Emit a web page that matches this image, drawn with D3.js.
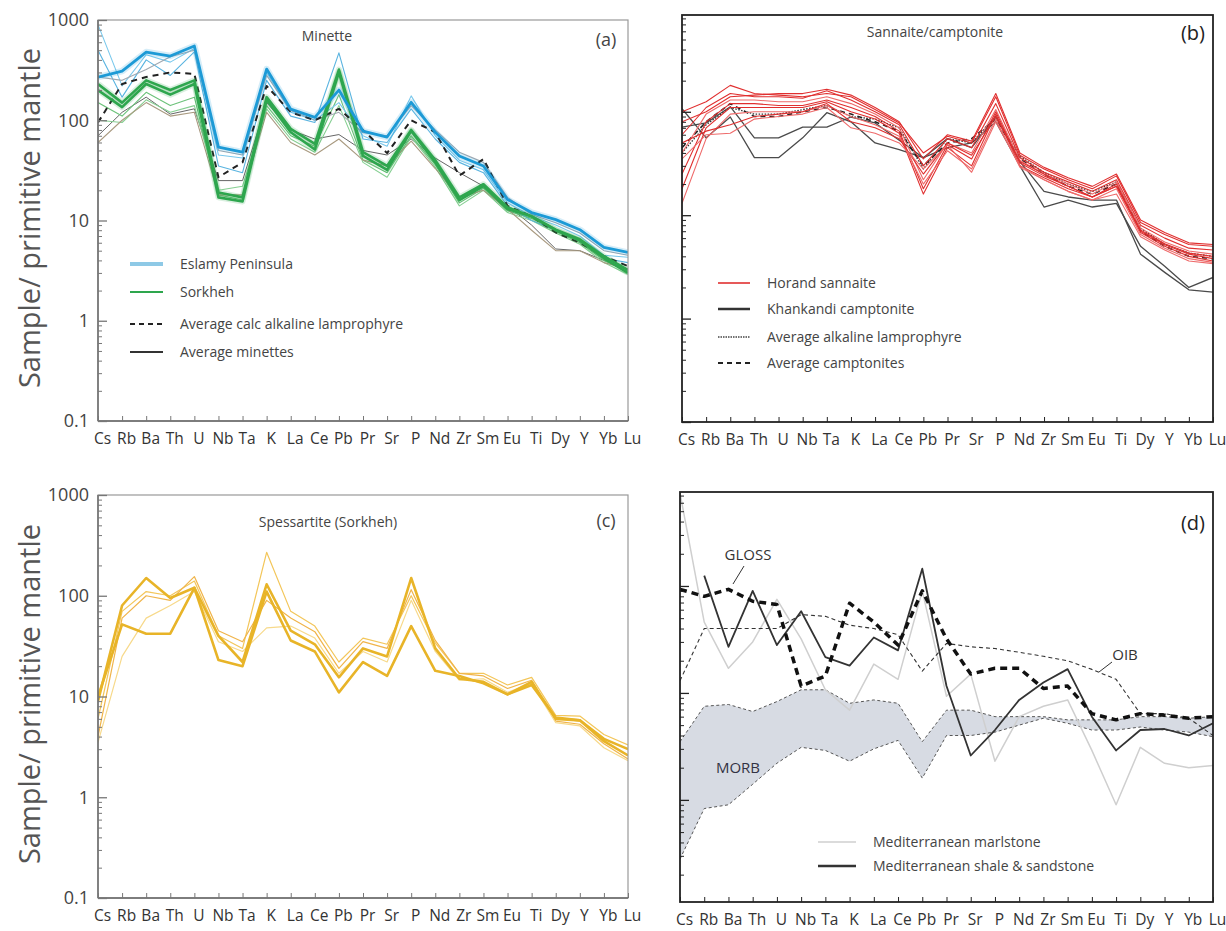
<!DOCTYPE html>
<html>
<head>
<meta charset="utf-8">
<script src="https://cdn.jsdelivr.net/npm/d3@7/dist/d3.min.js"></script>
<style>
  body { margin: 0; background: #fff; }
  text { font-family: "Open Sans", "Noto Sans", sans-serif; }
</style>
</head>
<body>
<script>
// Element order of the primitive-mantle normalised spider diagrams
const elements = ["Cs","Rb","Ba","Th","U","Nb","Ta","K","La","Ce","Pb","Pr","Sr","P","Nd","Zr","Sm","Eu","Ti","Dy","Y","Yb","Lu"];
const yTickValues = [0.1, 1, 10, 100, 1000];
const yTickLabels = ["0.1", "1", "10", "100", "1000"];

// (a) Minette — Eslamy Peninsula samples
const eslamyThick = [269, 309, 479, 437, 550, 54, 48, 324, 129, 107, 200, 78, 68, 151, 76, 44, 35, 16.2, 12, 10.2, 8.1, 5.4, 4.8];
const eslamyThin = [
  [900, 220, 450, 380, 520, 45, 42, 300, 120, 100, 150, 70, 55, 175, 70, 40, 32, 15, 11, 9, 7, 4.5, 4.3],
  [500, 170, 400, 280, 480, 35, 30, 250, 110, 95, 470, 65, 60, 130, 65, 38, 30, 14, 10, 8, 6.5, 4.2, 3.8],
  [270, 250, 320, 430, 500, 50, 45, 280, 125, 100, 120, 75, 70, 140, 80, 48, 38, 17, 11.5, 9.5, 7.5, 5, 4.5]
];
// (a) Minette — Sorkheh samples
const sorkhehThick = [
  [200, 135, 230, 180, 230, 17, 15.5, 160, 76, 51, 300, 44, 32, 78, 38, 16, 22, 13, 11, 8.1, 6.5, 4.4, 3.2],
  [230, 150, 250, 200, 250, 19, 17, 170, 82, 58, 320, 48, 35, 80, 40, 17, 23, 13.5, 11, 8, 6.3, 4.2, 3]
];
const sorkhehThin = [
  [150, 110, 190, 140, 170, 18, 16, 140, 70, 55, 180, 40, 30, 70, 36, 15, 21, 12.5, 10.5, 7.8, 6, 4, 3.1],
  [100, 95, 160, 120, 140, 20, 22, 130, 65, 48, 140, 38, 27, 68, 34, 14, 20, 12, 10, 7.5, 5.8, 3.8, 2.9],
  [60, 100, 150, 110, 120, 18, 18, 120, 60, 45, 65, 40, 35, 62, 33, 17, 20, 13, 8, 5, 5, 3.8, 3.3]
];
const avgCalcAlkaline = [95, 230, 270, 300, 290, 27, 38, 220, 120, 100, 130, 80, 47, 100, 76, 28, 41, 14, 11, 7.6, 6, 4.4, 3.5];
const avgMinettes = [70, 120, 170, 115, 130, 25, 25, 150, 80, 65, 72, 50, 45, 65, 42, 30, 22, 14, 9, 5.2, 5, 4, 3.2];

// (b) Sannaite/camptonite
const horandSannaite = [
  [100, 125, 180, 150, 145, 140, 150, 140, 105, 78, 40, 58, 50, 140, 38, 28, 22, 18, 24, 8.5, 6.5, 5.2, 5.0],
  [60, 110, 150, 140, 140, 135, 160, 130, 100, 75, 30, 55, 45, 120, 36, 26, 21, 17, 22, 8, 6, 4.8, 4.6],
  [40, 95, 130, 130, 125, 125, 140, 120, 95, 70, 22, 50, 40, 105, 34, 25, 20, 16, 21, 7.5, 5.5, 4.5, 4.2],
  [25, 80, 120, 120, 115, 115, 130, 110, 90, 65, 18, 48, 35, 100, 32, 24, 19, 15, 20, 7, 5.2, 4.2, 3.8],
  [18, 70, 110, 110, 110, 110, 125, 100, 85, 62, 16, 45, 30, 95, 30, 23, 18, 15, 19, 6.8, 5, 4, 3.6],
  [13, 55, 95, 100, 100, 100, 115, 90, 75, 58, 20, 42, 28, 85, 29, 22, 17, 14, 18, 6.5, 4.8, 3.8, 3.5],
  [80, 100, 140, 145, 150, 150, 165, 145, 110, 80, 35, 60, 52, 150, 40, 29, 23, 19, 25, 9, 6.8, 5.4, 5.2],
  [50, 65, 75, 90, 95, 100, 120, 80, 70, 55, 25, 50, 38, 90, 33, 25, 19, 15, 19, 7.2, 5.3, 4.3, 4.0],
  [35, 60, 62, 85, 90, 95, 110, 70, 62, 50, 28, 48, 26, 80, 30, 22, 17, 14, 16, 6.2, 4.6, 3.6, 3.4]
];
const khankandiCamptonite = [
  [107, 56, 89, 36, 36, 56, 98, 80, 50, 43, 36, 45, 50, 80, 30, 12, 14, 12, 13, 5, 3.2, 2.0, 2.5],
  [71, 78, 112, 56, 56, 71, 71, 89, 78, 53, 36, 55, 45, 90, 33, 17, 15, 14, 14, 4.2, 2.8, 1.9, 1.8]
];
const avgAlkalineLamprophyre = [40, 75, 110, 95, 95, 105, 115, 90, 85, 70, 28, 55, 50, 90, 37, 26, 20, 17, 21, 7.5, 5.2, 4.3, 4.0];
const avgCamptonites = [45, 80, 120, 90, 90, 100, 110, 95, 80, 65, 30, 50, 55, 85, 35, 25, 19, 16, 20, 7, 5, 4, 3.8];

// (c) Spessartite (Sorkheh)
const spessartiteThick = [
  [10, 52, 42, 42, 120, 23, 20, 110, 36, 28, 11, 22, 16, 50, 18, 16, 13.5, 10.5, 13, 6.2, 5.8, 3.8, 3.0],
  [9, 80, 150, 95, 120, 40, 22, 130, 45, 33, 15.5, 30, 25, 150, 30, 15, 14, 10.5, 14, 6, 5.8, 3.6, 2.6]
];
const spessartiteThin = [
  [6, 70, 110, 100, 140, 40, 30, 270, 70, 50, 22, 38, 33, 100, 34, 17, 17, 13, 15.5, 6.5, 6.4, 4.2, 3.3],
  [4, 60, 100, 90, 155, 45, 35, 90, 60, 44, 19, 35, 30, 115, 36, 17, 16, 12, 14.5, 5.7, 5.3, 3.4, 2.4],
  [3.5, 25, 60, 80, 110, 35, 28, 48, 50, 38, 17, 28, 22, 90, 28, 14.5, 15, 11, 13.5, 5.5, 5.1, 3.1, 2.3]
];

// (d) Reference compositions
const morbUpper = [3.5, 7.5, 7.8, 6.7, 8.3, 10.7, 10.7, 8.0, 8.6, 8.0, 3.5, 6.9, 6.9, 6.0, 6.0, 6.0, 5.6, 5.6, 5.6, 6.0, 6.0, 5.8, 6.0];
const morbLower = [0.28, 0.83, 0.9, 1.4, 2.2, 3.1, 2.9, 2.3, 3.0, 3.6, 1.6, 4.0, 4.0, 4.3, 5.0, 5.8, 5.2, 4.5, 4.5, 4.8, 4.5, 4.3, 3.9];
const oib = [13, 40, 40, 40, 40, 54, 52, 43, 40, 35, 16, 29, 27, 26, 24, 22, 20, 16.6, 13.4, 6.4, 6.4, 5.8, 4.0];
const gloss = [93, 80, 93, 72, 67, 11.6, 14.4, 69, 46, 28, 90, 32, 15, 17, 17, 11, 11.6, 6.4, 5.6, 6.4, 6.2, 5.8, 6.0];
const medShaleSandstone = [null, 125, 27, 90, 28, 58, 21.6, 18, 33, 25, 145, 11.6, 2.6, 4.5, 8.6, 12.5, 16.7, 6.0, 2.9, 4.5, 4.6, 4.0, 5.2];
const medMarlstone = [740, 46, 17, 30, 75, 32, 10.7, 6.9, 18.6, 13.4, 90, 9.3, 15, 2.3, 6.0, 7.5, 8.6, 2.9, 0.9, 3.1, 2.2, 2.0, 2.1];

const W = 1226, H = 931;
const svg = d3.select("body").append("svg").attr("width", W).attr("height", H);

// Panel frames (pixel boxes) and their log-axis extents
const panels = {
  a: { x0: 98, x1: 628, yTop: 20, yBot: 421, vTop: 1000, vBot: 0.1, light: true, labels: true },
  b: { x0: 682, x1: 1213, yTop: 15, yBot: 422, vTop: 863, vBot: 0.1, light: false, labels: false },
  c: { x0: 98, x1: 628, yTop: 495, yBot: 898, vTop: 1000, vBot: 0.1, light: true, labels: true },
  d: { x0: 680, x1: 1213, yTop: 492, yBot: 902, vTop: 756, vBot: 0.111, light: false, labels: false }
};

function setupPanel(key) {
  const p = panels[key];
  p.x = d3.scalePoint().domain(elements).range([p.x0, p.x1]);
  p.y = d3.scaleLog().domain([p.vBot, p.vTop]).range([p.yBot, p.yTop]);
  p.g = svg.append("g").attr("class", "panel-" + key);
  svg.append("clipPath").attr("id", "clip-" + key)
    .append("rect").attr("x", p.x0).attr("y", p.yTop)
    .attr("width", p.x1 - p.x0).attr("height", p.yBot - p.yTop);
  p.plot = p.g.append("g").attr("clip-path", "url(#clip-" + key + ")");
  p.line = d3.line().defined(d => d != null)
    .x((d, i) => p.x(elements[i])).y(d => p.y(d));
  return p;
}

function drawAxes(p) {
  const axisColor = p.light ? "#777" : "#222";
  // frame
  p.g.append("rect").attr("x", p.x0).attr("y", p.yTop)
    .attr("width", p.x1 - p.x0).attr("height", p.yBot - p.yTop)
    .attr("fill", "none").attr("stroke", p.light ? "#999" : "#222")
    .attr("stroke-width", p.light ? 1.2 : 1.8);
  if (p.light) {
    p.g.append("line").attr("x1", p.x0).attr("x2", p.x0).attr("y1", p.yTop).attr("y2", p.yBot)
      .attr("stroke", "#666").attr("stroke-width", 1.4);
    p.g.append("line").attr("x1", p.x0).attr("x2", p.x1).attr("y1", p.yBot).attr("y2", p.yBot)
      .attr("stroke", "#666").attr("stroke-width", 1.4);
  }
  // minor y ticks
  const minors = [];
  for (let e = -1; e <= 2; e++) for (let m = 2; m <= 9; m++) {
    const v = m * Math.pow(10, e);
    if (v > p.vBot && v < p.vTop) minors.push(v);
  }
  const minorAxis = p.g.append("g").attr("transform", `translate(${p.x0},0)`)
    .call(d3.axisLeft(p.y).tickValues(minors).tickSize(-4).tickFormat(""));
  minorAxis.select(".domain").remove();
  minorAxis.selectAll("line").attr("stroke", axisColor);
  // major y ticks (labels only on the left-hand panels)
  const majors = yTickValues.filter(v => v >= p.vBot * 0.999 && v <= p.vTop * 1.001);
  const majorAxis = p.g.append("g").attr("transform", `translate(${p.x0},0)`)
    .call(d3.axisLeft(p.y).tickValues(majors).tickSize(-9).tickPadding(9)
      .tickFormat(v => p.labels ? yTickLabels[yTickValues.indexOf(v)] : ""));
  majorAxis.select(".domain").remove();
  majorAxis.selectAll("line").attr("stroke", axisColor).attr("stroke-width", 1.3);
  majorAxis.selectAll("text").attr("font-size", 18).attr("fill", "#444")
    .attr("font-family", "'Open Sans', sans-serif");
  // x axis with element names
  const xAxis = p.g.append("g").attr("transform", `translate(0,${p.yBot})`)
    .call(d3.axisBottom(p.x).tickSize(-5).tickPadding(12));
  xAxis.select(".domain").remove();
  xAxis.selectAll("line").attr("stroke", axisColor);
  xAxis.selectAll("text").attr("font-size", 15.5).attr("fill", "#333").attr("dx", 4)
    .attr("font-family", "'Open Sans', sans-serif");
}

function drawSeries(p, values, stroke, width, dash, opacity) {
  p.plot.append("path").datum(values)
    .attr("d", p.line).attr("fill", "none")
    .attr("stroke", stroke).attr("stroke-width", width)
    .attr("stroke-dasharray", dash || null)
    .attr("stroke-linejoin", "round")
    .attr("opacity", opacity == null ? 1 : opacity);
}

function legendRow(p, x, y, len, stroke, width, dash, label) {
  p.g.append("line").attr("x1", x).attr("x2", x + len).attr("y1", y).attr("y2", y)
    .attr("stroke", stroke).attr("stroke-width", width).attr("stroke-dasharray", dash || null);
  p.g.append("text").attr("x", x + len + 17).attr("y", y).attr("dy", "0.35em")
    .attr("font-size", 14).attr("fill", "#444").text(label);
}

function label(p, x, y, txt, size, anchor, fill) {
  p.g.append("text").attr("x", x).attr("y", y).attr("dy", "0.35em")
    .attr("text-anchor", anchor || "middle").attr("font-size", size)
    .attr("fill", fill || "#444").text(txt);
}

// ---------- (a) Minette ----------
const A = setupPanel("a");
drawSeries(A, avgMinettes, "#666", 1);
sorkhehThin.forEach((s, i) => drawSeries(A, s, ["#6cc27a", "#86cf92", "#a99a80"][i], 1.1));
eslamyThin.forEach((s, i) => drawSeries(A, s, ["#79c8ec", "#5ab4e0", "#a0a8b0"][i], 1.1));
drawSeries(A, avgCalcAlkaline, "#222", 2, "6,5");
// soft halo under the thick sample lines
sorkhehThick.forEach(s => drawSeries(A, s, "#2ea64e", 6, null, 0.18));
drawSeries(A, eslamyThick, "#1c9ad6", 6.5, null, 0.18);
sorkhehThick.forEach(s => drawSeries(A, s, "#2ea64e", 2.6));
drawSeries(A, eslamyThick, "#1c9ad6", 2.8);
drawAxes(A);
label(A, 327, 36, "Minette", 14);
label(A, 606, 40, "(a)", 18);
legendRow(A, 130, 264, 33, "#8ec9e6", 4, null, "Eslamy Peninsula");
legendRow(A, 130, 292, 33, "#2ea64e", 2, null, "Sorkheh");
legendRow(A, 130, 324, 33, "#222", 2, "5,4", "Average calc alkaline lamprophyre");
legendRow(A, 130, 352, 33, "#333", 2, null, "Average minettes");

// ---------- (b) Sannaite/camptonite ----------
const B = setupPanel("b");
khankandiCamptonite.forEach(s => drawSeries(B, s, "#4a4a4a", 1.3));
drawSeries(B, avgAlkalineLamprophyre, "#333", 1.3, "1.5,1.5");
drawSeries(B, avgCamptonites, "#222", 1.6, "5,4");
horandSannaite.forEach((s, i) => drawSeries(B, s, i % 3 === 2 ? "#ee6a6a" : "#e02f2f", 1.1));
drawAxes(B);
label(B, 935, 32, "Sannaite/camptonite", 14);
label(B, 1193, 33, "(b)", 20, "middle", "#222");
legendRow(B, 718, 283, 32, "#e02f2f", 1.6, null, "Horand sannaite");
legendRow(B, 718, 309, 32, "#333", 2.5, null, "Khankandi camptonite");
legendRow(B, 718, 337, 32, "#444", 1.6, "1.5,1", "Average alkaline lamprophyre");
legendRow(B, 718, 363, 32, "#222", 2, "5,4", "Average camptonites");

// ---------- (c) Spessartite ----------
const C = setupPanel("c");
spessartiteThin.forEach((s, i) => drawSeries(C, s, ["#f3c65a", "#f0b44a", "#f7d98a"][i], 1.2));
spessartiteThick.forEach(s => drawSeries(C, s, "#e8b428", 2.6));
drawAxes(C);
label(C, 328, 522, "Spessartite (Sorkheh)", 14);
label(C, 606, 521, "(c)", 18);

// ---------- (d) Reference compositions ----------
const D = setupPanel("d");
const morbArea = d3.area()
  .x((d, i) => D.x(elements[i]))
  .y0(d => D.y(d[0])).y1(d => D.y(d[1]));
D.plot.append("path").datum(morbLower.map((v, i) => [v, morbUpper[i]]))
  .attr("d", morbArea).attr("fill", "#d7dbe3");
drawSeries(D, morbUpper, "#555", 1, "3,2.5");
drawSeries(D, morbLower, "#555", 1, "3,2.5");
drawSeries(D, medMarlstone, "#cfcfcf", 1.5);
drawSeries(D, oib, "#333", 1.1, "4,3");
drawSeries(D, medShaleSandstone, "#333", 1.8);
drawSeries(D, gloss, "#111", 3.5, "7,5");
drawAxes(D);
label(D, 1193, 523, "(d)", 20, "middle", "#222");
label(D, 748, 555, "GLOSS", 15, "middle", "#333");
D.g.append("line").attr("x1", 744).attr("y1", 566).attr("x2", 733).attr("y2", 584)
  .attr("stroke", "#333").attr("stroke-width", 1);
label(D, 1125, 655, "OIB", 15, "middle", "#333");
D.g.append("line").attr("x1", 1112).attr("y1", 662).attr("x2", 1099).attr("y2", 672)
  .attr("stroke", "#333").attr("stroke-width", 1);
label(D, 738, 768, "MORB", 15, "middle", "#334");
legendRow(D, 818, 842, 38, "#cfcfcf", 1.5, null, "Mediterranean marlstone");
legendRow(D, 818, 866, 38, "#333", 2.5, null, "Mediterranean shale & sandstone");

// ---------- y-axis titles ----------
[[30, 218], [30, 694]].forEach(([x, y]) => {
  svg.append("text").attr("transform", `translate(${x},${y}) rotate(-90)`)
    .attr("text-anchor", "middle").attr("dy", "0.35em")
    .attr("font-size", 29).attr("fill", "#555")
    .text("Sample/ primitive mantle");
});
</script>
</body>
</html>
